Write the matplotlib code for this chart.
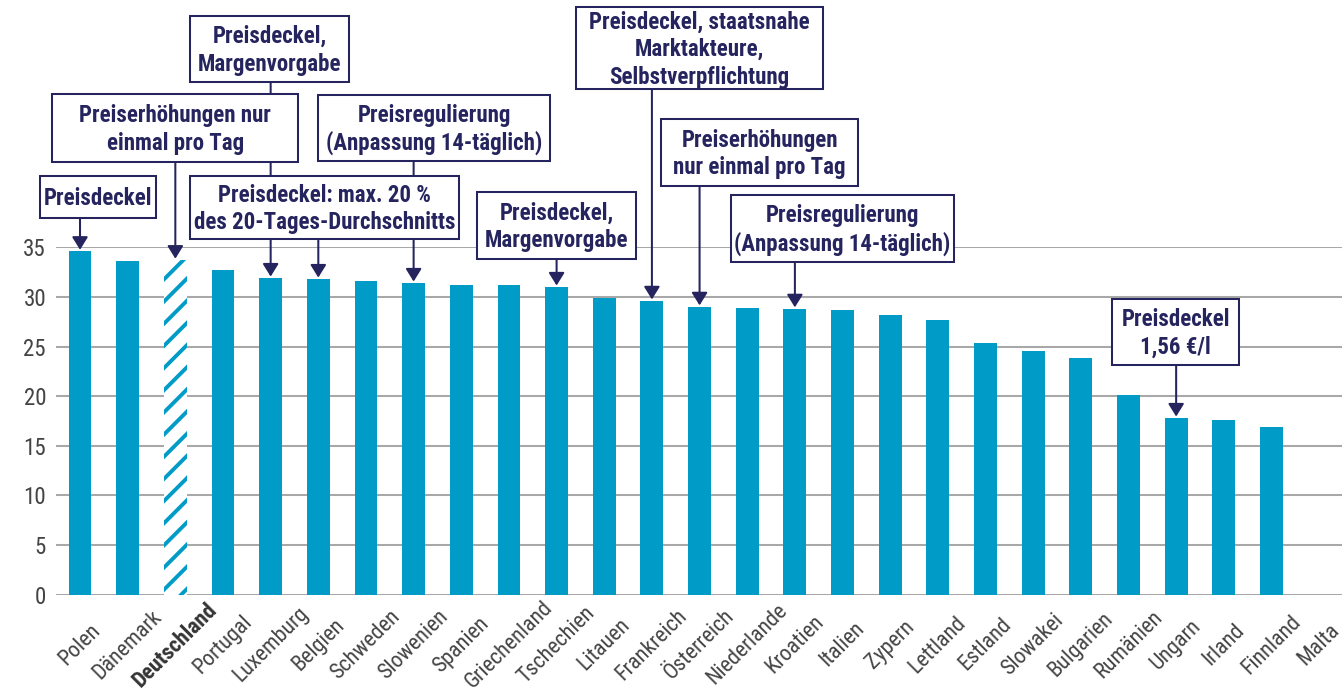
import matplotlib
matplotlib.use("Agg")
import matplotlib.pyplot as plt
from matplotlib import font_manager as fm
from matplotlib.patches import Rectangle, FancyArrowPatch

plt.rcParams["hatch.linewidth"] = 2.1

# Data: country names and values (y axis 0-35)
countries = ["Polen", "Dänemark", "Deutschland", "Portugal", "Luxemburg", "Belgien",
             "Schweden", "Slowenien", "Spanien", "Griechenland", "Tschechien", "Litauen",
             "Frankreich", "Österreich", "Niederlande", "Kroatien", "Italien", "Zypern",
             "Lettland", "Estland", "Slowakei", "Bulgarien", "Rumänien", "Ungarn",
             "Irland", "Finnland", "Malta"]
values = [34.6, 33.6, 33.7, 32.7, 31.9, 31.8, 31.6, 31.4, 31.2, 31.2, 31.0, 29.9,
          29.6, 29.0, 28.9, 28.8, 28.7, 28.2, 27.7, 25.4, 24.6, 23.8, 20.1, 17.8,
          17.6, 16.9, 0.0]
highlight = "Deutschland"
yticks = [0, 5, 10, 15, 20, 25, 30, 35]

# Measures per country: label text, box extent (x0, x1, top, bottom) in data units,
# and the bar the arrow points to
measures = [
    ("Preisdeckel", (-0.84, 1.60, 42.2, 38.0), "Polen"),
    ("Preisdeckel,\nMargenvorgabe", (2.31, 5.65, 58.3, 51.65), "Luxemburg"),
    ("Preiserhöhungen nur\neinmal pro Tag", (-0.59, 4.58, 50.4, 43.6), "Deutschland"),
    ("Preisdeckel: max. 20 %\ndes 20-Tages-Durchschnitts", (2.31, 7.95, 42.2, 35.8), "Belgien"),
    ("Preisregulierung\n(Anpassung 14-täglich)", (5.0, 9.86, 50.3, 43.7), "Slowenien"),
    ("Preisdeckel,\nMargenvorgabe", (8.33, 11.67, 40.6, 33.8), "Tschechien"),
    ("Preisdeckel, staatsnahe\nMarktakteure,\nSelbstverpflichtung", (10.41, 15.59, 59.2, 50.9), "Frankreich"),
    ("Preiserhöhungen\nnur einmal pro Tag", (12.19, 16.33, 47.9, 41.2), "Österreich"),
    ("Preisregulierung\n(Anpassung 14-täglich)", (13.66, 18.34, 40.3, 33.5), "Kroatien"),
    ("Preisdeckel\n1,56 €/l", (21.66, 24.32, 29.8, 23.1), "Ungarn"),
]

BLUE = "#009bc7"
NAVY = "#25245e"
GRID = "#a8a8a8"
TEXT = "#444444"
FS = 12.4
FS_X = 11.9


def font(style_file, family, weight, size):
    """Condensed sans font, looked up by file name with a family fallback."""
    for f in fm.fontManager.ttflist:
        if f.fname.endswith(style_file):
            return fm.FontProperties(fname=f.fname, size=size)
    return fm.FontProperties(family=family, weight=weight, stretch="condensed", size=size)


fallback = ["Roboto Condensed", "Liberation Sans"]
reg = font("RobotoCondensed-Regular.ttf", fallback, "normal", FS)
bold = font("RobotoCondensed-Bold.ttf", fallback, "bold", FS)
reg_x = font("RobotoCondensed-Regular.ttf", fallback, "normal", FS_X)
bold_x = font("RobotoCondensed-Bold.ttf", fallback, "bold", FS_X)

DPI = 133
fig = plt.figure(figsize=(1342 / DPI, 692 / DPI), dpi=DPI)
ax = fig.add_axes([56 / 1342, 97.3 / 692, 1 - 56 / 1342, 347.4 / 692])

x = list(range(len(countries)))
bars = ax.bar(x, values, width=0.48, color=BLUE, zorder=2)
hi = countries.index(highlight)
bars[hi].set_facecolor("white")
bars[hi].set_edgecolor(BLUE)
bars[hi].set_linewidth(0)
bars[hi].set_hatch("//")

ax.set_xlim(-0.504, 26.48)
ax.set_ylim(0, 35)
ax.set_yticks(yticks)
ax.set_yticklabels([str(t) for t in yticks])
ax.yaxis.grid(True, color=GRID, lw=1.1)
ax.set_axisbelow(True)
for s in ax.spines.values():
    s.set_visible(False)
ax.tick_params(axis="y", length=0, pad=5.4, labelcolor=TEXT)
ax.tick_params(axis="x", length=0, pad=27.0, labelcolor=TEXT)
ax.set_xticks(x)
ax.set_xticklabels(countries, rotation=45, ha="center", va="center",
                   rotation_mode="anchor")
for lab in ax.get_yticklabels():
    lab.set_fontproperties(reg)
for k, lab in enumerate(ax.get_xticklabels()):
    if k == hi:
        lab.set_fontproperties(bold_x)
        lab.set_color("#333333")
    else:
        lab.set_fontproperties(reg_x)

# Annotation boxes with arrows pointing to the bars
line_step = 2.8   # baseline distance in data units
cap_half = 0.8
for text, (x0, x1, top, bottom), target in measures:
    i = countries.index(target)
    arr = FancyArrowPatch((i, bottom), (i, values[i] + 0.15),
                          arrowstyle="-|>,head_length=5.8,head_width=3.6",
                          mutation_scale=1, lw=1.1, color=NAVY,
                          shrinkA=0, shrinkB=0, clip_on=False, zorder=3)
    ax.add_patch(arr)
    ax.add_patch(Rectangle((x0, bottom), x1 - x0, top - bottom, facecolor="white",
                           edgecolor=NAVY, lw=1.1, clip_on=False, zorder=4))
    lines = text.split("\n")
    n = len(lines)
    xc = (x0 + x1) / 2
    yc = (top + bottom) / 2
    for k, ln in enumerate(lines):
        yb = yc + (n - 1) / 2 * line_step - k * line_step - cap_half
        ax.text(xc, yb, ln, ha="center", va="baseline", fontproperties=bold,
                color=NAVY, clip_on=False, zorder=5)

fig.savefig("out.png", dpi=DPI)
